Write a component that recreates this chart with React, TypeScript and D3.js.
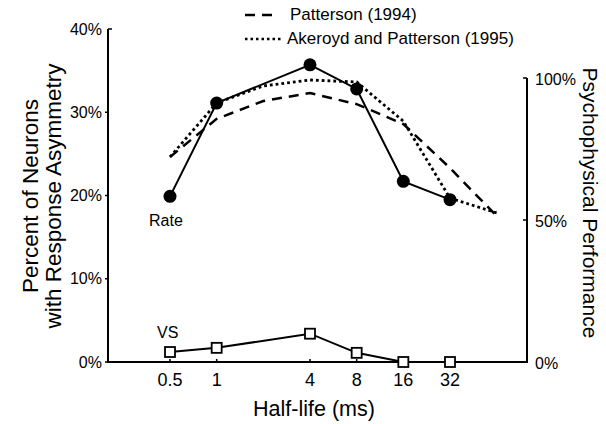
import React from 'react';
import * as d3 from 'd3';

// Half-life conditions (ms) for the neural data
const halfLives = [0.5, 1, 4, 8, 16, 32];
const xTickLabels = ['0.5', '1', '4', '8', '16', '32'];
// Percent of neurons with response asymmetry
const rateValues = [19.9, 31.1, 35.7, 32.8, 21.7, 19.5];
const vsValues = [1.2, 1.7, 3.4, 1.1, 0, 0];
// Psychophysical performance (%) from the two studies
const psychoHalfLives = [0.5, 1, 2, 4, 8, 16, 32, 64];
const patterson1994 = [72.2, 85.6, 91.9, 94.7, 90.8, 83.8, 68.3, 51.4];
const akeroyd1995 = [72.2, 91.2, 97.2, 99.3, 98.6, 84.8, 57.7, 52.5];
const leftTicks = [0, 10, 20, 30, 40];
const rightTicks = [0, 50, 100];

const W = 606;
const H = 424;
const FONT = '"Liberation Sans", Arial, Helvetica, sans-serif';

export default function App() {
  const x = d3.scaleLog().base(2).domain([0.5, 32]).range([170, 450]);
  const yL = d3.scaleLinear().domain([0, 40]).range([362, 29]);
  const yR = d3.scaleLinear().domain([0, 100]).range([362, 78]);
  const axL = 108;
  const axR = 527;
  const base = yL(0);

  const neuralLine = d3
    .line<[number, number]>()
    .x((d) => x(d[0]))
    .y((d) => yL(d[1]));
  const psychoLine = d3
    .line<[number, number]>()
    .x((d) => x(d[0]))
    .y((d) => yR(d[1]));

  const rateData = halfLives.map((h, i) => [h, rateValues[i]] as [number, number]);
  const vsData = halfLives.map((h, i) => [h, vsValues[i]] as [number, number]);
  const pat = psychoHalfLives.map((h, i) => [h, patterson1994[i]] as [number, number]);
  const ake = psychoHalfLives.map((h, i) => [h, akeroyd1995[i]] as [number, number]);

  const sq = 10;

  return (
    <svg
      width={W}
      height={H}
      style={{ position: 'absolute', left: 0, top: 0, background: '#fff' }}
      fontFamily={FONT}
    >
      <rect width={W} height={H} fill="#fff" />
      {/* legend */}
      <line x1={245} x2={274} y1={15} y2={15} stroke="#000" strokeWidth={2.5} strokeDasharray="10 7" />
      <text x={290} y={20} fontSize={17}>Patterson (1994)</text>
      <line x1={245} x2={283} y1={39} y2={39} stroke="#000" strokeWidth={2.5} strokeDasharray="2.5 3" />
      <text x={287} y={44} fontSize={17}>Akeroyd and Patterson (1995)</text>

      {/* frame */}
      <g stroke="#000" strokeWidth={2} fill="none">
        <line x1={axL} x2={axL} y1={yL(40)} y2={base + 1} />
        <line x1={axL - 1} x2={axR + 1} y1={base} y2={base} />
        <line x1={axR} x2={axR} y1={yR(100)} y2={base + 1} />
      </g>

      {/* left axis */}
      {leftTicks.map((t) => (
        <g key={'l' + t}>
          <line
            x1={axL}
            x2={t === 40 ? axL + 4 : axL - 3}
            y1={yL(t)}
            y2={yL(t)}
            stroke="#000"
            strokeWidth={1.5}
          />
          <text x={102} y={yL(t)} dy="0.35em" fontSize={16} textAnchor="end">
            {t}%
          </text>
        </g>
      ))}

      {/* right axis */}
      {rightTicks.map((t) => (
        <g key={'r' + t}>
          {t > 0 && (
            <line x1={axR} x2={axR - 4} y1={yR(t)} y2={yR(t)} stroke="#000" strokeWidth={1.5} />
          )}
          <text x={535} y={yR(t) + 1} dy="0.35em" fontSize={16}>
            {t}%
          </text>
        </g>
      ))}

      {/* bottom axis */}
      {halfLives.map((h, i) => (
        <g key={'x' + h}>
          <line x1={x(h)} x2={x(h)} y1={base} y2={base - 3} stroke="#000" strokeWidth={1.5} />
          <text x={x(h)} y={386} fontSize={18} textAnchor="middle">
            {xTickLabels[i]}
          </text>
        </g>
      ))}

      {/* axis titles */}
      <text x={314} y={416} fontSize={21.5} textAnchor="middle">Half-life (ms)</text>
      <text
        transform={`translate(38,196) rotate(-90)`}
        fontSize={22.5}
        textAnchor="middle"
      >
        Percent of Neurons
      </text>
      <text
        transform={`translate(61,196) rotate(-90)`}
        fontSize={22.5}
        textAnchor="middle"
      >
        with Response Asymmetry
      </text>
      <text
        transform={`translate(583,203) rotate(90)`}
        fontSize={21}
        textAnchor="middle"
      >
        Psychophysical Performance
      </text>

      {/* psychophysical curves */}
      <path d={psychoLine(pat) || ''} fill="none" stroke="#000" strokeWidth={2.5} strokeDasharray="10 7" />
      <path d={psychoLine(ake) || ''} fill="none" stroke="#000" strokeWidth={2.8} strokeDasharray="2.8 3" />

      {/* neural data */}
      <path d={neuralLine(rateData) || ''} fill="none" stroke="#000" strokeWidth={2} />
      {rateData.map((d) => (
        <circle key={'c' + d[0]} cx={x(d[0])} cy={yL(d[1])} r={6.5} fill="#000" />
      ))}
      <path d={neuralLine(vsData) || ''} fill="none" stroke="#000" strokeWidth={2} />
      {vsData.map((d) => (
        <rect
          key={'s' + d[0]}
          x={x(d[0]) - sq / 2}
          y={yL(d[1]) - sq / 2}
          width={sq}
          height={sq}
          fill="#fff"
          stroke="#000"
          strokeWidth={1.8}
        />
      ))}

      <text x={149} y={226} fontSize={16}>Rate</text>
      <text x={157} y={338} fontSize={16}>VS</text>
    </svg>
  );
}
